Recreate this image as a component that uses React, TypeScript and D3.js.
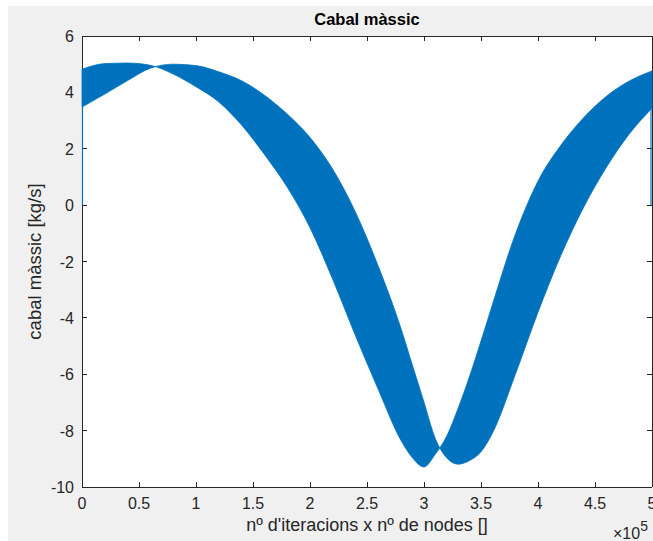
import React from "react";
import * as d3 from "d3";

// Mass-flow band: the signal alternates between two envelopes every node,
// so it fills the region between them.
const iterX = [0, 0.2, 0.4, 0.6, 0.8, 1.0, 1.2, 1.4, 1.6, 1.8, 2.0, 2.2, 2.4, 2.6, 2.8, 2.9, 3.0, 3.1, 3.2, 3.3, 3.4, 3.5, 3.6, 3.8, 4.0, 4.2, 4.4, 4.6, 4.8, 5.0];
const envelopeA = [4.82, 5.02, 5.04, 4.96, 4.65, 4.2, 3.66, 2.84, 1.8, 0.64, -0.8, -2.64, -4.64, -6.55, -8.36, -8.97, -9.29, -8.83, -8.19, -7.2, -6.07, -4.82, -3.53, -1.05, 0.85, 2.12, 3.1, 3.86, 4.4, 4.76];
const envelopeB = [3.48, 3.94, 4.42, 4.86, 5.0, 4.95, 4.73, 4.41, 3.9, 3.23, 2.4, 1.27, -0.26, -2.18, -4.4, -5.7, -6.99, -8.29, -8.97, -9.19, -9.06, -8.75, -8.09, -6.02, -3.8, -1.79, -0.08, 1.34, 2.52, 3.44];
// first and last samples of the signal
const edgeX = [0, 5];
const edgeValue = [0, 0];

const xTicks = [0, 0.5, 1, 1.5, 2, 2.5, 3, 3.5, 4, 4.5, 5];
const yTicks = [-10, -8, -6, -4, -2, 0, 2, 4, 6];

const W = 653;
const H = 541;
const left = 82;
const right = 652;
const top = 36;
const bottom = 487;
const BLUE = "#0072BD";
const INK = "#262626";
const FONT = "'Liberation Sans', Arial, Helvetica, sans-serif";

export default function App() {
  const x = d3.scaleLinear().domain([0, 5]).range([left, right]);
  const y = d3.scaleLinear().domain([-10, 6]).range([bottom, top]);

  const rows = iterX.map((v, i) => ({ x: v, a: envelopeA[i], b: envelopeB[i] }));
  const area = d3
    .area<{ x: number; a: number; b: number }>()
    .x((d) => x(d.x))
    .y0((d) => y(d.a))
    .y1((d) => y(d.b))
    .curve(d3.curveMonotoneX);

  const edgeLines = edgeX.map((ex, i) => {
    const idx = iterX.indexOf(ex);
    const near = Math.min(envelopeA[idx], envelopeB[idx]);
    return { x: ex, from: edgeValue[i], to: near };
  });

  const tick = 5;

  return (
    <svg
      width={W}
      height={H}
      style={{ position: "absolute", left: 0, top: 0, display: "block" }}
      fontFamily={FONT}
    >
      <rect x={0} y={0} width={W} height={H} fill="#ffffff" />
      <rect x={8} y={6} width={W - 8} height={H - 6} fill="#f0f0f0" />
      <rect x={left} y={top} width={right - left} height={bottom - top} fill="#ffffff" />

      {/* axis box and ticks */}
      <g stroke={INK} strokeWidth={1} fill="none" shapeRendering="crispEdges">
        <line x1={left} y1={bottom} x2={right} y2={bottom} />
        <line x1={left} y1={top} x2={right} y2={top} />
        <line x1={left} y1={top} x2={left} y2={bottom} />
        <line x1={right} y1={top} x2={right} y2={bottom} />
        {xTicks.map((t) => (
          <g key={"xt" + t}>
            <line x1={x(t)} y1={bottom} x2={x(t)} y2={bottom - tick} />
            <line x1={x(t)} y1={top} x2={x(t)} y2={top + tick} />
          </g>
        ))}
        {yTicks.map((t) => (
          <g key={"yt" + t}>
            <line x1={left} y1={y(t)} x2={left + tick} y2={y(t)} />
            <line x1={right} y1={y(t)} x2={right - tick} y2={y(t)} />
          </g>
        ))}
      </g>

      {/* data */}
      <path d={area(rows) ?? ""} fill={BLUE} stroke={BLUE} strokeWidth={0.8} />
      {edgeLines.map((e, i) => (
        <line
          key={"edge" + i}
          x1={x(e.x) + (i === 0 ? 0.5 : -1)}
          x2={x(e.x) + (i === 0 ? 0.5 : -1)}
          y1={y(e.from)}
          y2={y(e.to)}
          stroke={BLUE}
          strokeWidth={1.2}
        />
      ))}

      {/* tick labels */}
      <g fill={INK} fontSize={16}>
        {xTicks.map((t) => (
          <text key={"xl" + t} x={x(t)} y={bottom + 22} textAnchor="middle">
            {String(t)}
          </text>
        ))}
        {yTicks.map((t) => (
          <text key={"yl" + t} x={left - 8} y={y(t) + 6} textAnchor="end">
            {String(t)}
          </text>
        ))}
      </g>

      {/* exponent */}
      <text x={613} y={539} fill={INK} fontSize={16}>
        ×10
        <tspan dy={-8} fontSize={14}>5</tspan>
      </text>

      {/* labels */}
      <text
        x={(left + right) / 2}
        y={H - 10}
        textAnchor="middle"
        fill={INK}
        fontSize={18}
      >
        nº d'iteracions x nº de nodes []
      </text>
      <text
        transform={`translate(41, ${(top + bottom) / 2}) rotate(-90)`}
        textAnchor="middle"
        fill={INK}
        fontSize={18.5}
      >
        cabal màssic [kg/s]
      </text>
      <text
        x={(left + right) / 2}
        y={25}
        textAnchor="middle"
        fill="#000000"
        fontSize={16.5}
        fontWeight="bold"
      >
        Cabal màssic
      </text>
    </svg>
  );
}
